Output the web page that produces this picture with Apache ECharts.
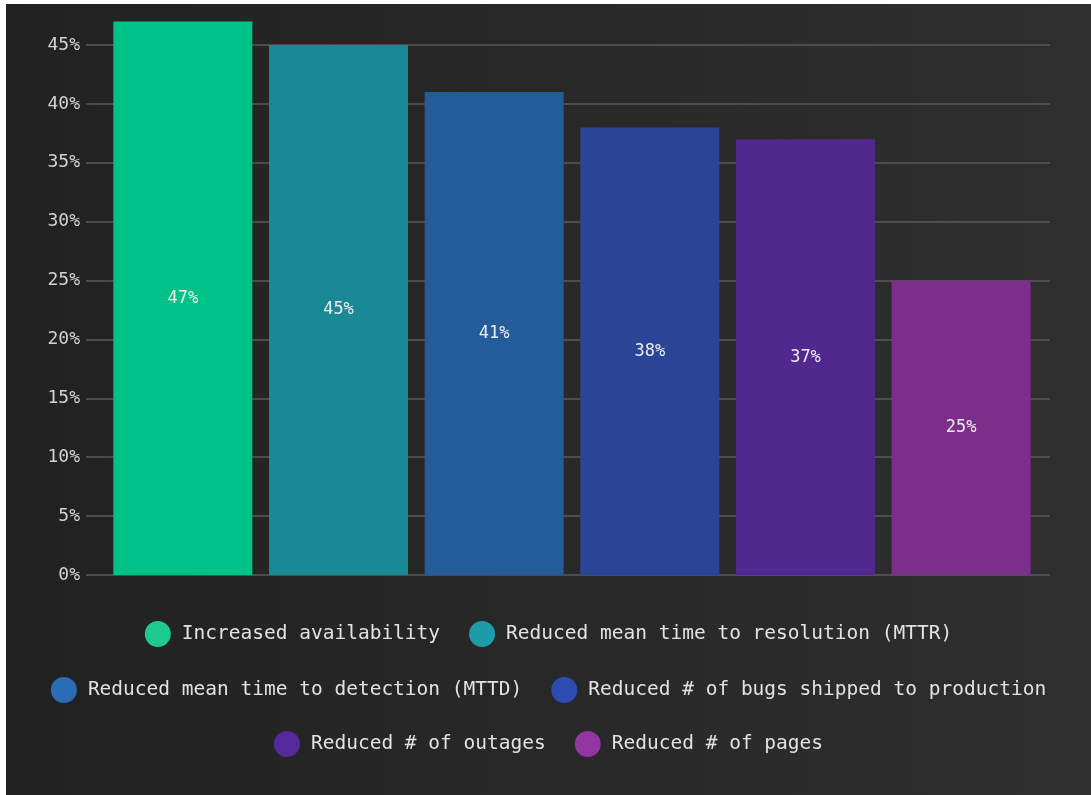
<!DOCTYPE html>
<html>
<head>
<meta charset="utf-8">
<script src="https://cdn.jsdelivr.net/npm/echarts@6/dist/echarts.min.js"></script>
<style>
  html, body { margin: 0; padding: 0; background: #ffffff; }
  #chart { position: absolute; left: 6px; top: 4px; width: 1085px; height: 791px; }
</style>
</head>
<body>
<div id="chart"></div>
<script>
var categories = [
    'Increased availability',
    'Reduced mean time to resolution (MTTR)',
    'Reduced mean time to detection (MTTD)',
    'Reduced # of bugs shipped to production',
    'Reduced # of outages',
    'Reduced # of pages'
];
var values = [47, 45, 41, 38, 37, 25];
var barColors = ['#00c389', '#1a8996', '#235c99', '#2b4596', '#51298e', '#7c2f8a'];
var dotColors = ['#1ec98f', '#1e9ba8', '#2a6cb5', '#2d4cb0', '#55299b', '#9334a3'];
var yTicks = [0, 5, 10, 15, 20, 25, 30, 35, 40, 45];

var myChart = echarts.init(document.getElementById('chart'));
var font = 'DejaVu Sans Mono';

// one series per category, stacked so they share the slot
var series = [];
for (var i = 0; i < categories.length; i++) {
    var d = [];
    for (var j = 0; j < values.length; j++) {
        d.push(j === i ? values[j] : '-');
    }
    series.push({
        name: categories[i],
        type: 'bar',
        stack: 'all',
        xAxisIndex: 1,
        yAxisIndex: 1,
        barWidth: 139,
        clip: false,
        data: d,
        itemStyle: { color: barColors[i] },
        label: {
            show: true,
            position: 'inside',
            formatter: '{c}%',
            color: '#ececec',
            fontFamily: font,
            fontSize: 17
        }
    });
}

function legendRow(names, top) {
    return {
        top: top,
        left: 'center',
        orient: 'horizontal',
        icon: 'circle',
        itemWidth: 26,
        itemHeight: 26,
        itemGap: 29,
        selectedMode: false,
        textStyle: { color: '#e2e2e2', fontFamily: font, fontSize: 19.5, padding: [0, 0, 0, 6] },
        data: names.map(function (n) {
            return { name: n, itemStyle: { color: dotColors[categories.indexOf(n)] } };
        })
    };
}

var option = {
    backgroundColor: {
        type: 'linear', x: 0, y: 0, x2: 1, y2: 0,
        colorStops: [{ offset: 0, color: '#212121' }, { offset: 1, color: '#2f2f2f' }]
    },
    animation: false,
    grid: [
        { left: 80, right: 41, top: 41, bottom: 220 },
        { left: 99, right: 52, top: 41, bottom: 220 }
    ],
    xAxis: [
        { gridIndex: 0, type: 'category', data: [''], show: false },
        { gridIndex: 1, type: 'category', data: categories, show: false }
    ],
    yAxis: [
        {
            gridIndex: 0,
            type: 'value',
            min: yTicks[0],
            max: yTicks[yTicks.length - 1],
            interval: 5,
            axisLine: { show: false },
            axisTick: { show: false },
            axisLabel: {
                margin: 6,
                color: '#d2d2d2',
                fontFamily: font,
                fontSize: 18,
                formatter: '{value}%'
            },
            splitLine: { lineStyle: { color: '#5a5a5a', width: 1.5 } }
        },
        {
            gridIndex: 1,
            type: 'value',
            min: yTicks[0],
            max: yTicks[yTicks.length - 1],
            interval: 5,
            show: false,
            splitLine: { show: false }
        }
    ],
    legend: [
        legendRow(categories.slice(0, 2), 612),
        legendRow(categories.slice(2, 4), 668),
        legendRow(categories.slice(4, 6), 722)
    ],
    series: series
};

myChart.setOption(option);
</script>
</body>
</html>
